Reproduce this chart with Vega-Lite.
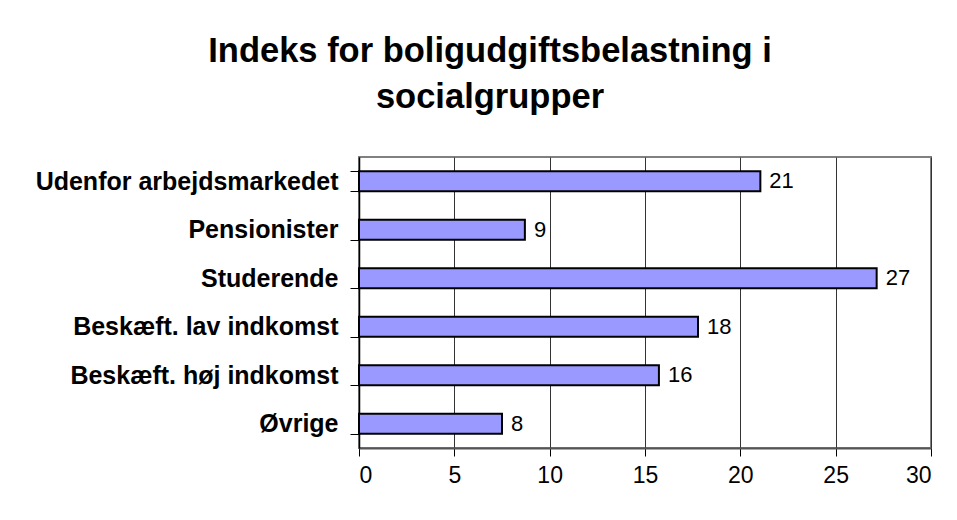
{
  "$schema": "https://vega.github.io/schema/vega-lite/v6.json",
  "autosize": "none",
  "width": 572,
  "height": 291,
  "padding": {"left": 359, "top": 157, "right": 26, "bottom": 72},
  "background": "white",
  "title": {
    "text": ["Indeks for boligudgiftsbelastning i", "socialgrupper"],
    "font": "Liberation Sans",
    "fontSize": 34.5,
    "fontWeight": "bold",
    "color": "black",
    "anchor": "middle",
    "frame": "group",
    "dx": -155,
    "offset": 30,
    "lineHeight": 46
  },
  "data": {
    "values": [
      {"gruppe": "Udenfor arbejdsmarkedet", "indeks": 21.05},
      {"gruppe": "Pensionister", "indeks": 8.7},
      {"gruppe": "Studerende", "indeks": 27.15},
      {"gruppe": "Beskæft. lav indkomst", "indeks": 17.78},
      {"gruppe": "Beskæft. høj indkomst", "indeks": 15.73},
      {"gruppe": "Øvrige", "indeks": 7.5}
    ]
  },
  "encoding": {
    "y": {
      "field": "gruppe",
      "type": "nominal",
      "sort": null,
      "scale": {"paddingInner": 0.59, "paddingOuter": 0.295},
      "axis": {
        "title": null,
        "labelFont": "Liberation Sans",
        "labelFontWeight": "bold",
        "labelFontSize": 25,
        "labelColor": "black",
        "labelPadding": 12,
        "labelLimit": 400,
        "tickBand": "extent",
        "tickSize": 9,
        "tickColor": "black",
        "domainColor": "black",
        "domainWidth": 1.5
      }
    },
    "x": {
      "field": "indeks",
      "type": "quantitative",
      "scale": {"domain": [0, 30], "nice": false},
      "axis": {
        "title": null,
        "values": [0, 5, 10, 15, 20, 25, 30],
        "labelFont": "Liberation Sans",
        "labelFontSize": 23,
        "labelColor": "black",
        "labelPadding": 8,
        "tickSize": 8,
        "tickColor": "black",
        "domainColor": "#555555",
        "domainWidth": 2,
        "grid": true,
        "gridColor": "#333333",
        "gridWidth": 1
      }
    }
  },
  "layer": [
    {
      "mark": {"type": "bar", "fill": "#9999ff", "stroke": "black", "strokeWidth": 2}
    },
    {
      "mark": {"type": "text", "align": "left", "baseline": "middle", "dx": 9, "font": "Liberation Sans", "fontSize": 22, "color": "black"},
      "encoding": {
        "text": {"field": "indeks", "type": "quantitative", "format": ".0f"}
      }
    }
  ],
  "config": {
    "view": {"stroke": "#808080", "strokeWidth": 2}
  }
}
